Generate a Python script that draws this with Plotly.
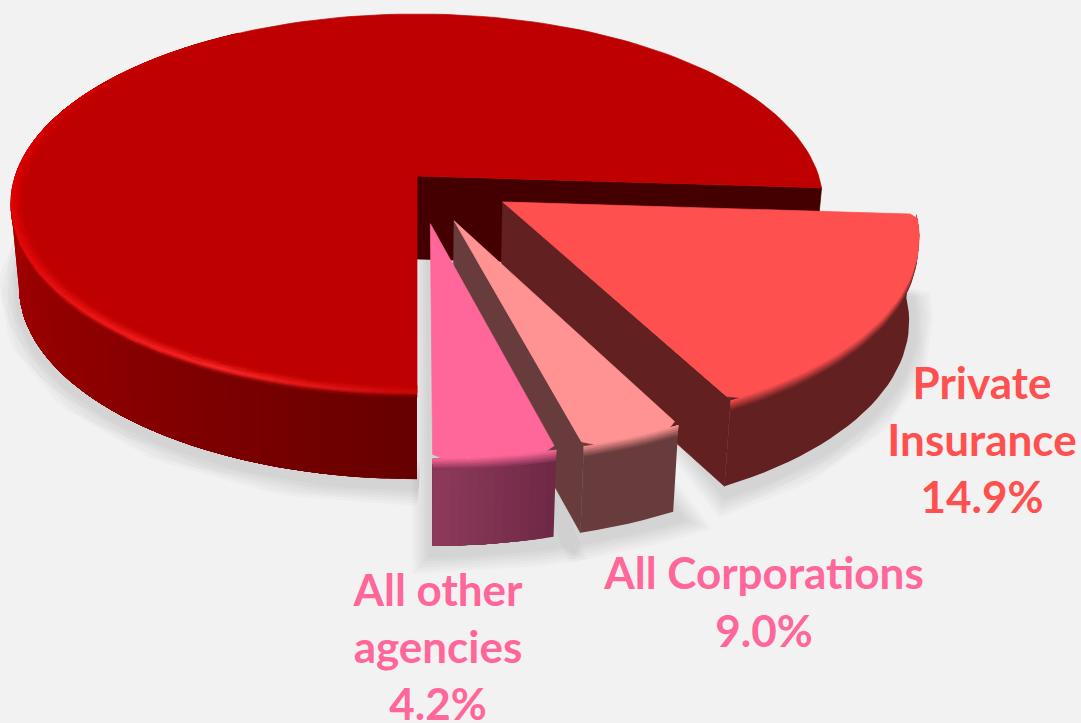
import math
import plotly.graph_objects as go

# ---- values ----
label_texts = ["Private<br>Insurance<br>14.9%", "All Corporations<br>9.0%", "All other<br>agencies<br>4.2%"]
label_pct = [14.9, 9.0, 4.2]
# sweep of each wedge as actually drawn in the picture (degrees)
sweep_private = 59.3
sweep_corporations = 12.4
sweep_other = 14.7
sweep_main = 273.6
start_angle = -3.6
explode = 0.25

# ---- styles ----
BG = "#f2f2f2"
MAIN_TOP = "#bf0000"
INNER = "#440000"
PRIVATE = ("#ff5050", "#632020")
CORP = ("#ff9393", "#683c3c")
OTHER = ("#ff6699", "#8f3a5c", "#6e2845")
LABEL_PRIVATE = "#ff5050"
LABEL_PINK = "#ff6699"

# ---- view geometry of the tilted disc ----
CX, CY, RX, RY, K, H = 417.0, 176.0, 401.7, 185.5, 0.145, 83.0


def proj(u, v, z=0.0):
    d = 1 + K * v
    x = RX * u / d
    y = -RY * v / d
    return (CX + x * (1 - 0.02 * z), CY + y * (1 + 0.015 * z) + H * z)


def rgb(c):
    return tuple(int(c[i:i + 2], 16) for i in (1, 3, 5))


def mix(a, b, t):
    t = max(0.0, min(1.0, t))
    pa, pb = rgb(a), rgb(b)
    return "#%02x%02x%02x" % tuple(round(x + (y - x) * t) for x, y in zip(pa, pb))


def ramp(stops, x):
    for (x0, c0), (x1, c1) in zip(stops, stops[1:]):
        if x0 >= x >= x1:
            return mix(c0, c1, (x - x0) / (x1 - x0))
    return stops[0][1] if x > stops[0][0] else stops[-1][1]


fig = go.Figure()


def add_polys(polys, lw=0.7):
    groups = {}
    for pts, col in polys:
        groups.setdefault(col, []).append(pts)
    for col, plist in groups.items():
        xs, ys = [], []
        for pts in plist:
            xs += [p[0] for p in pts] + [pts[0][0], None]
            ys += [p[1] for p in pts] + [pts[0][1], None]
        fig.add_trace(go.Scatter(x=xs, y=ys, mode="lines", fill="toself", fillcolor=col,
                                 line=dict(color=col, width=lw), hoverinfo="skip", showlegend=False))


def angles(a0, a1, step):
    n = max(1, int(abs(a1 - a0) / step))
    return [a0 + (a1 - a0) * i / n for i in range(n + 1)]


def pt(a, r=1.0, off=(0.0, 0.0), z=0.0):
    t = math.radians(a)
    return proj(off[0] + r * math.cos(t), off[1] + r * math.sin(t), z)


def wedge_outline(a0, a1, off=(0.0, 0.0), z=0.0):
    return [proj(off[0], off[1], z)] + [pt(a, 1.0, off, z) for a in angles(a0, a1, 2)]


ROUND_R, ROUND_D = 0.985, 1.2


def rounded_wedge(a0, a1, off):
    d = ROUND_D
    return ([proj(off[0], off[1]), pt(a0, ROUND_R, off)] +
            [pt(a, 1.0, off) for a in angles(a0 - d, a1 + d, 2)] +
            [pt(a1, ROUND_R, off)])


def add_corner_fill(a1, off, col):
    add_polys([([pt(a1, ROUND_R - 0.01, off), pt(a1 + ROUND_D + 0.5, 0.99, off), pt(a1 + ROUND_D, 1, off), pt(a1, 1, off)], col)])


def add_shadow(a0, a1, off=(0.0, 0.0), closed=True):
    if closed:
        # silhouette: top apex, then the lower arc
        pts = [proj(off[0], off[1], 0)] + [pt(a, 1.0, off, 1.0) for a in angles(a0, a1, 2)]
        pts.append(pts[0])
    else:
        # only the outer lower arc
        pts = [pt(a, 1.0, off, 1.0) for a in angles(a0, a1, 2)]
    xs = [p[0] + 2 for p in pts]
    ys = [p[1] + 5 for p in pts]
    for w in (44, 38, 32, 26, 20, 14):
        fig.add_trace(go.Scatter(x=xs, y=ys, mode="lines",
                                 line=dict(color="rgba(0,0,0,0.02)", width=w), hoverinfo="skip",
                                 showlegend=False))


def arc_band(a0, a1, off, z0, z1):
    seq = angles(a0, a1, 2)
    return [pt(a, 1, off, z0) for a in seq] + [pt(a, 1, off, z1) for a in reversed(seq)]


def add_wall(a0, a1, off, top_col, wall_fn, bevel=0.13, step=2.0):
    # paint from one end to the other, each step covering the rest of the wall, so no seams appear
    seq = angles(a0, a1, step)
    for s in seq[:-1]:
        add_polys([(arc_band(s, a1, off, bevel * 0.5, 1), wall_fn(s - step / 2))], lw=0)
    nb = 6
    wc = wall_fn((a0 + a1) / 2)
    for i in range(nb, 0, -1):
        add_polys([(arc_band(a0, a1, off, 0, bevel * i / nb), mix(top_col, wc, (i - 0.5) / nb))], lw=0)


def add_cut_side(a, off, col):
    add_polys([([proj(off[0], off[1], 0), pt(a, 1, off, 0), pt(a, 1, off, 1), proj(off[0], off[1], 1)], col)])


def offset(bisector):
    t = math.radians(bisector)
    return (explode * math.cos(t), explode * math.sin(t))


# wedge angles (clockwise from the start angle)
a_priv = (start_angle, start_angle - sweep_private)
a_corp = (a_priv[1], a_priv[1] - sweep_corporations)
a_other = (a_corp[1], a_corp[1] - sweep_other)
a_main = (a_other[1], a_other[1] - sweep_main)
off_priv = offset(sum(a_priv) / 2)
off_corp = offset(sum(a_corp) / 2)
off_other = offset(sum(a_other) / 2)

# soft ground shadows
add_shadow(a_main[0], -240, closed=False)
add_shadow(*a_priv, off_priv)
add_shadow(*a_corp, off_corp)
add_shadow(*a_other, off_other)

# main wedge: inner wall, front wall, rim, top
add_polys([([proj(0, 0, 0), pt(start_angle, 1, (0, 0), 0), pt(start_angle, 1, (0, 0), 1), proj(0, 0, 1)], INNER)])

main_wall = [(a_main[0], "#660000"), (-135, "#8c0000"), (-180, "#a80000"), (-260, "#a80000")]
main_high = [(a_main[0], "#c80808"), (-115, "#ff2a2a"), (-150, "#e81010"), (-180, "#e00000"),
             (-215, "#cc0000"), (-240, MAIN_TOP)]

rim_seq = angles(a_main[0], -240, 2)
for s in angles(a_main[0], -240, 2)[:-1]:
    add_polys([(arc_band(s, -240, (0, 0), 0, 1), ramp(main_wall, s - 1))], lw=0)
polys = []
for s, e in zip(rim_seq, rim_seq[1:]):
    mid = (s + e) / 2
    wc, hc = ramp(main_wall, mid), ramp(main_high, mid)
    for i in range(3):
        z0, z1 = 0.05 * i / 3, 0.05 * (i + 1) / 3
        polys.append(([pt(s, 1, (0, 0), z0), pt(e, 1, (0, 0), z0), pt(e, 1, (0, 0), z1), pt(s, 1, (0, 0), z1)],
                       mix(hc, wc, (i + 0.5) / 3)))
add_polys(polys)
add_polys([(wedge_outline(*a_main), MAIN_TOP)])

polys = []
for s, e in zip(rim_seq, rim_seq[1:]):
    hc = ramp(main_high, (s + e) / 2)
    for i in range(4):
        r0, r1 = 0.97 + 0.03 * i / 4, 0.97 + 0.03 * (i + 1) / 4
        polys.append(([pt(s, r0), pt(e, r0), pt(e, r1), pt(s, r1)], mix(MAIN_TOP, hc, (i + 0.5) / 4)))
add_polys(polys)

# private insurance wedge
add_cut_side(a_priv[1], off_priv, PRIVATE[1])
add_wall(a_priv[0], a_priv[1], off_priv, PRIVATE[0], lambda a: PRIVATE[1], step=60)
add_corner_fill(a_priv[1], off_priv, PRIVATE[1])
add_polys([(rounded_wedge(*a_priv, off_priv), PRIVATE[0])])

# corporations wedge
add_cut_side(a_corp[1], off_corp, CORP[1])
add_wall(a_corp[0], a_corp[1], off_corp, CORP[0], lambda a: CORP[1], step=13)
add_corner_fill(a_corp[1], off_corp, CORP[1])
add_polys([(rounded_wedge(*a_corp, off_corp), CORP[0])])

# other agencies wedge
add_wall(a_other[0], a_other[1], off_other, OTHER[0],
         lambda a: mix(OTHER[2], OTHER[1], (a_other[0] - a) / (a_other[0] - a_other[1])), step=1.0)
add_polys([(rounded_wedge(*a_other, off_other), OTHER[0])])

# labels
label_x = [982, 764, 438]
label_y = [445, 607, 652]
label_col = [LABEL_PRIVATE, LABEL_PINK, LABEL_PINK]
for t, x, y, c in zip(label_texts, label_x, label_y, label_col):
    fig.add_trace(go.Scatter(x=[x], y=[y], mode="text", text=[t], textposition="middle center",
                             textfont=dict(family="Lato", size=44, color=c, weight="bold"),
                             hoverinfo="skip", showlegend=False, cliponaxis=False))

fig.update_layout(width=1081, height=723, margin=dict(l=0, r=0, t=0, b=0),
                  paper_bgcolor=BG, plot_bgcolor=BG,
                  xaxis=dict(range=[0, 1081], visible=False, fixedrange=True),
                  yaxis=dict(range=[723, 0], visible=False, fixedrange=True),
                  showlegend=False)
fig.write_html("out.html", config={"displayModeBar": False},
               post_script="document.body.style.margin='0';document.body.style.background='#f2f2f2';document.body.style.overflow='hidden';")
